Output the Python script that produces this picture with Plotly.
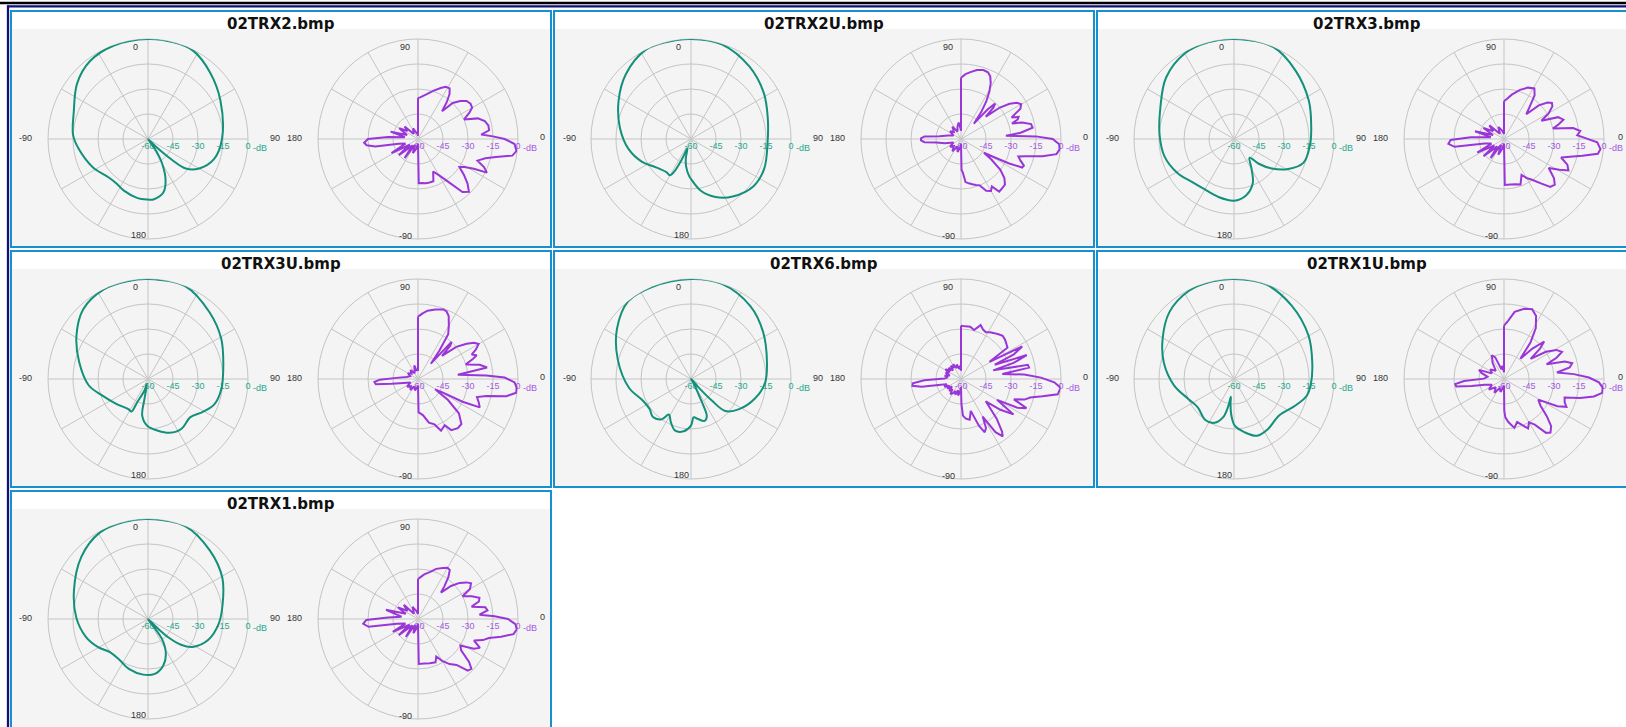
import plotly.graph_objects as go

W, H = 1626, 727

TITLES = ["02TRX2.bmp", "02TRX2U.bmp", "02TRX3.bmp",
          "02TRX3U.bmp", "02TRX6.bmp", "02TRX1U.bmp",
          "02TRX1.bmp"]

# ---- horizontal patterns (angle deg, clockwise from top ; level dB) ----
H_02TRX2 = [(0, 0), (15, 0), (27, -0.5), (43, -5.4), (62, -10.8), (90, -15.6), (107, -18.6),
            (120, -24.6), (128, -31.2), (131, -40.8), (134, -52.8), (138, -60), (145, -52.8),
            (150, -43.2), (157, -33), (164, -26.6), (175, -23.6), (180, -23.7), (190, -24),
            (205, -25.8), (215, -27.3), (226, -27), (243, -22.8), (262, -18), (273, -15),
            (290, -12.6), (308, -6), (323, -1.8), (340, -0.3), (360, 0)]
H_02TRX2U = [(0, 0), (18, -0.3), (39, -4.2), (58, -8.4), (75, -12.3), (92, -14), (112, -12.6),
             (127, -13), (144, -17.4), (157, -22.2), (169, -28.2), (180, -36), (183, -37.8),
             (190, -43.2), (195, -48), (201, -54), (204, -46.8), (207, -38.4), (210, -34.8),
             (216, -35.2), (231, -33), (245, -27.6), (261, -22), (279, -16.8), (298, -10.8),
             (315, -4.8), (333, 0), (346, 0), (360, 0)]
H_02TRX3 = [(0, 0), (23, 0), (42, -4.8), (63, -9.6), (82, -13.2), (95, -14.3), (109, -16),
            (119, -22.8), (128, -31.2), (135, -39), (140, -45.4), (150, -38.8), (157, -31.2),
            (168, -25.4), (180, -23), (195, -24), (212, -25), (224, -24), (239, -20.4),
            (256, -17), (273, -15.3), (293, -12), (312, -5.1), (330, -0.8), (345, 0), (360, 0)]
H_02TRX3U = [(0, 0), (22, 0), (43, -5.6), (61, -9.8), (78, -13.8), (98, -15.6), (111, -17.4),
             (121, -21.6), (132, -25.8), (146, -24), (158, -25.2), (169, -28.4), (181, -32),
             (189, -37.8), (190, -48), (192, -57), (197, -52.8), (205, -44.5), (207, -38.1),
             (213, -38.4), (232, -35.8), (250, -30.9), (264, -24.2), (284, -17.4), (301, -9.9),
             (317, -2.9), (334, 0), (348, 0), (360, 0)]
H_02TRX6 = [(0, 0), (18, 0), (39, -3.6), (57, -8.4), (78, -13.4), (93, -15.5), (107, -19.9),
            (122, -25.9), (133, -31.9), (136, -42), (138, -52.4), (141, -60), (150, -56),
            (154, -49), (155, -42.4), (157, -35.7), (162, -33.6), (170, -35.6), (176, -37),
            (180, -32), (188, -28.3), (197, -27.6), (205, -31.4), (212, -34.9), (216, -30.2),
            (225, -27.7), (234, -29.3), (246, -28.3), (262, -22.4), (285, -14.5), (304, -6.4),
            (321, 0), (337, 0), (360, 0)]
H_02TRX1U = [(0, 0), (18, 0), (38, -4), (60, -8.3), (78, -12), (93, -13.7), (103, -15.2),
             (113, -19.7), (129, -25.2), (146, -23.7), (158, -23.3), (169, -27.5), (179, -32),
             (184, -37.9), (188, -45), (190, -49.2), (192, -43), (196, -36), (204, -31.2),
             (215, -30), (232, -32.4), (246, -30.2), (264, -23.8), (283, -16.8), (299, -11),
             (316, -4.2), (333, -0.6), (347, 0), (360, 0)]
H_02TRX1 = [(0, 0), (22, 0), (42, -4.6), (61, -9), (79, -14.4), (94, -17.5), (109, -21.7),
            (122, -28.4), (128, -34.9), (132, -43.4), (134, -52.8), (138, -60), (145, -45.4),
            (153, -36.4), (162, -30.5), (173, -26.8), (185, -26.5), (201, -27.9), (216, -30.2),
            (229, -29.7), (241, -25.5), (254, -21.2), (271, -17), (291, -12.4), (313, -5.3),
            (331, -0.6), (346, 0), (360, 0)]

# ---- vertical patterns (angle deg, counter-clockwise from right ; level dB) ----
V_02TRX2 = [(90, -35.4), (87, -35), (80, -33), (72, -29.5), (66, -26.5), (62, -24.5), (58, -24.2),
            (55, -27), (52, -32), (49, -38), (46, -30), (42, -26), (38, -23), (34, -22), (30, -22.5),
            (27, -25.5), (23, -30), (19, -22), (15, -18.5), (11, -17), (7, -17), (4, -22), (2, -15),
            (0, -8), (-3, -2), (-7, -0.5), (-10, -2.5), (-13, -12), (-16, -18), (-20, -22),
            (-23, -17), (-26, -14), (-28, -22), (-31, -27.5), (-34, -30), (-38, -25), (-42, -20),
            (-46, -16), (-50, -18.5), (-55, -29), (-60, -35), (-65, -38.5), (-70, -33), (-75, -33),
            (-80, -33), (-85, -33.5), (-89, -33.5), (-90, -57), (-95, -56), (-100, -54),
            (-110, -51), (-118, -56), (-125, -46), (-130, -55), (-140, -45), (-145, -54),
            (-152, -42), (-160, -52), (-166, -48), (-170, -34), (-173, -29), (-176, -27.6),
            (-180, -30), (-184, -42), (-188, -52), (-195, -43), (-200, -53), (-210, -47),
            (-217, -52), (-223, -49), (-230, -56), (-245, -53), (-255, -56), (-265, -57),
            (-270, -58), (-270, -35.4)]
V_02TRX2U = [(90, -23.2), (86, -21), (82, -19.5), (77, -17.5), (72, -16.5), (68, -16.8), (65, -18.5),
             (62, -22), (59, -27), (56, -33), (53, -40), (50, -48), (48, -36), (46, -30.5), (44, -33),
             (42, -40), (39, -30), (36, -24), (33, -20), (30, -18.3), (27, -20), (25, -24), (23, -27),
             (21, -23), (19, -24), (17, -28), (15, -22), (12, -17), (9, -16.5), (6, -24), (4, -33),
             (2, -15), (0, -5), (-3, -1), (-6, -0.5), (-9, -2), (-12, -10), (-15, -20), (-17, -24),
             (-20, -22), (-23, -19), (-25, -19.5), (-27, -28), (-29, -38), (-31, -44), (-34, -38),
             (-38, -30), (-42, -25), (-46, -22), (-50, -21.5), (-54, -21), (-57, -26), (-60, -24),
             (-64, -25.5), (-68, -30), (-72, -31), (-76, -32), (-80, -33), (-84, -34), (-87, -40),
             (-89, -41.4), (-90, -57), (-95, -55), (-105, -52), (-115, -55), (-125, -51),
             (-135, -54), (-145, -52), (-155, -55), (-165, -50), (-172, -45), (-175, -38),
             (-178, -36), (-181, -36), (-184, -38), (-187, -47), (-195, -52), (-205, -55),
             (-215, -52), (-225, -54), (-235, -51), (-245, -55), (-255, -52), (-262, -50),
             (-268, -54), (-270, -55), (-270, -23.2)]
V_02TRX3 = [(90, -37.4), (86, -36), (80, -33), (72, -29), (65, -26), (59, -24.6), (55, -28), (51, -36),
            (48, -40), (44, -31), (40, -26), (37, -24), (34, -25), (30, -29), (26, -35), (22, -25),
            (18, -22.5), (15, -26), (12, -30), (9, -18), (6, -14), (3, -16), (1, -12), (-2, -4),
            (-6, -1.8), (-9, -3), (-12, -12), (-15, -19), (-18, -24), (-22, -19), (-26, -17),
            (-29, -22), (-33, -28), (-38, -22), (-42, -19), (-46, -20), (-50, -25), (-55, -30),
            (-60, -33), (-64, -36), (-70, -31), (-76, -32), (-82, -32.5), (-89, -32.4), (-90, -57),
            (-100, -54), (-110, -50), (-118, -56), (-125, -46), (-132, -54), (-140, -44),
            (-146, -53), (-153, -42), (-160, -52), (-167, -48), (-171, -30), (-175, -26.5),
            (-179, -28), (-183, -40), (-188, -52), (-195, -42), (-200, -53), (-208, -46),
            (-216, -52), (-223, -48), (-232, -56), (-245, -52), (-258, -55), (-270, -57),
            (-270, -37.4)]
V_02TRX3U = [(90, -22.6), (86, -20.5), (82, -18.6), (76, -17), (70, -15.6), (67, -16), (64, -18),
             (60, -23), (56, -27.6), (53, -38.6), (50, -48), (48, -30), (46, -32), (44, -40), (40, -30),
             (36, -24), (33, -20), (30, -18), (27, -21), (24.5, -24.6), (22, -22), (20, -25), (17, -30),
             (13, -22), (9.5, -18), (6, -36), (3, -19), (1, -8), (-2, -2), (-5, -0.6), (-8, -0.5),
             (-11, -6), (-14, -17.7), (-17, -23), (-21, -21), (-24.7, -19.2), (-27, -30), (-29, -44),
             (-31, -48), (-35, -38), (-40, -28), (-46, -22.5), (-51, -22), (-57, -23.4), (-60, -28),
             (-66, -26), (-70, -31), (-76, -33), (-82, -38), (-85, -39), (-89, -40), (-90, -56),
             (-95, -55), (-105, -53), (-115, -55), (-125, -52), (-135, -54), (-145, -52),
             (-155, -55), (-165, -51), (-170, -44), (-173, -34.5), (-176, -33.8), (-179, -37),
             (-183, -47), (-190, -53), (-200, -55), (-210, -53), (-220, -55), (-230, -53),
             (-240, -56), (-250, -54), (-254, -52), (-256, -51.8), (-259, -55), (-265, -54),
             (-270, -55), (-270, -22.6)]
V_02TRX6 = [(90, -28), (85, -28.3), (80, -28.2), (75, -29.6), (70, -25.6), (66, -27.5), (62, -28.2),
            (58, -27), (54, -26), (50, -25), (46, -24), (42, -24.5), (38, -25.5), (34, -26.4),
            (31, -40), (28, -18.4), (25, -25), (23, -38), (20, -18), (17, -27), (15, -40), (12, -19),
            (9.5, -18.6), (7, -35), (4, -22), (1, -12), (-2, -4), (-5, 0), (-9, -1.2), (-12, -10),
            (-15, -17), (-18, -20), (-21, -26), (-24, -17), (-27, -22), (-30, -35), (-34, -22),
            (-38, -30), (-42, -40), (-48, -28), (-52, -20), (-54, -17.4), (-57, -22), (-60, -34),
            (-63, -27), (-66, -25), (-69, -30), (-73, -40), (-78, -35), (-83, -36), (-87, -38),
            (-89, -45), (-90, -55), (-95, -52), (-100, -50), (-105, -53), (-110, -50), (-115, -52),
            (-120, -50), (-125, -49), (-130, -52), (-135, -50), (-140, -53), (-145, -50),
            (-150, -52), (-155, -49), (-160, -51), (-165, -46), (-169, -36), (-172, -30.6),
            (-175, -31), (-178, -38), (-182, -50), (-187, -52), (-192, -50), (-197, -53),
            (-202, -50), (-207, -52), (-212, -49), (-217, -52), (-222, -50), (-227, -53),
            (-232, -50), (-237, -52), (-242, -50), (-248, -53), (-254, -51), (-260, -54),
            (-266, -52), (-270, -55), (-270, -28)]
V_02TRX1U = [(90, -28), (86, -25), (81, -19.2), (74, -16.2), (68, -14.9), (63, -17.6), (58, -24),
             (54, -33), (51, -44.4), (47, -35), (43, -27), (40, -32), (37, -40), (33, -30), (29, -24),
             (25, -21.6), (22, -26), (19, -33), (16, -22), (13, -18), (10, -20), (7, -28), (4, -18),
             (1, -9), (-2, -3), (-5, -0.6), (-8, -0.5), (-11, -5), (-14, -13), (-17, -22), (-21, -21),
             (-24, -19), (-27, -24), (-31, -36), (-36, -33), (-41, -26), (-45, -20), (-49, -17.5),
             (-52, -19), (-56, -27), (-60, -30), (-64, -27), (-68, -30), (-73, -33), (-78, -30),
             (-84, -33.9), (-88, -37), (-89.5, -41), (-90, -56), (-95, -55), (-105, -52),
             (-115, -54), (-125, -50), (-135, -53), (-145, -49), (-155, -52), (-163, -48),
             (-168, -40), (-171, -31), (-174, -30.6), (-177, -36), (-181, -48), (-188, -50),
             (-195, -46), (-200, -44), (-205, -52), (-215, -50), (-225, -53), (-235, -48),
             (-243, -44), (-248, -46), (-255, -54), (-263, -52), (-270, -56), (-270, -28)]
V_02TRX1 = [(90, -36), (87, -35), (82, -33), (76, -31), (70, -28), (64, -26), (60, -24.5), (57, -25),
            (54, -29), (51, -35), (49, -39), (45, -32), (41, -27), (37, -23.5), (34, -21.6), (30, -24),
            (27, -30), (23, -25), (19, -21), (16, -22), (13, -27), (10, -19), (7, -18), (4, -23),
            (2, -14), (0, -6), (-3, -1.5), (-6, -0.4), (-9, -2), (-12, -9), (-15, -16), (-18, -19),
            (-21, -24), (-25, -19), (-28, -22), (-32, -30), (-36, -28), (-40, -20), (-43, -16.2),
            (-46, -17), (-50, -24), (-55, -27), (-60, -31), (-64, -35), (-68, -32), (-75, -32.5),
            (-82, -33), (-89, -33), (-90, -57), (-100, -54), (-108, -51), (-116, -56), (-124, -47),
            (-132, -55), (-140, -45), (-146, -54), (-153, -43), (-160, -52), (-167, -47),
            (-171, -30), (-175, -27), (-179, -29), (-183, -42), (-188, -50), (-196, -40),
            (-203, -52), (-210, -46), (-218, -52), (-225, -48), (-233, -56), (-246, -52),
            (-258, -55), (-270, -57), (-270, -36)]

H_DATA = [H_02TRX2, H_02TRX2U, H_02TRX3, H_02TRX3U, H_02TRX6, H_02TRX1U, H_02TRX1]
V_DATA = [V_02TRX2, V_02TRX2U, V_02TRX3, V_02TRX3U, V_02TRX6, V_02TRX1U, V_02TRX1]

ANG_TICKS = list(range(0, 360, 30))
ANG_LABELS = ["0", "90", "180", "-90"]
RAD_TICKS = [-60, -45, -30, -15, 0]
RAD_TEXT = ["-60", "-45", "-30", "-15", "0"]

# ---- styling / layout ----
TEAL = "#12907a"
TEAL_TXT = "#27a88d"
PURPLE = "#9a36d8"
PURPLE_TXT = "#a45ae0"
GRID = "#c4c4c4"
BORDER = "#1690cf"
BG = "#f4f4f4"
NAVY = "#10107a"
LABEL_COLOR = "#333333"

COL_X0 = [11, 554, 1097]
ROW_Y0 = [11, 251, 491]
PW, PH = 540, 236
R = 100
LX, RXO, CYO = 137, 407, 128
# where the chart library puts its angle labels, relative to the circle centre (px)
LEFT_LABEL_POS = {"0": (-13, -92), "90": (127, -1), "180": (-10, 96), "-90": (-122, -1)}
RIGHT_LABEL_POS = {"90": (-13, -92), "0": (124, -2), "-90": (-13, 97), "180": (-124, -1)}


def px(x):
    return x / W


def py(y):
    return 1 - y / H


fig = go.Figure()
shapes = [
    dict(type="line", xref="paper", yref="paper", x0=0, x1=1, y0=py(3), y1=py(3),
         line=dict(color="#000000", width=2.3)),
    dict(type="line", xref="paper", yref="paper", x0=px(7), x1=1, y0=py(6.3), y1=py(6.3),
         line=dict(color=NAVY, width=2.3)),
    dict(type="line", xref="paper", yref="paper", x0=px(8), x1=px(8), y0=py(5.5), y1=0,
         line=dict(color=NAVY, width=2.3)),
]
annotations = []
polars = {}

for i, title in enumerate(TITLES):
    row, col = divmod(i, 3)
    x0 = COL_X0[col]
    y0 = ROW_Y0[row]
    x1 = x0 + PW
    y1 = y0 + PH + (6 if row == 2 else 0)
    shapes.append(dict(type="rect", xref="paper", yref="paper", layer="below",
                       x0=px(x0 + 1), x1=px(x1 - 1), y0=py(y1 - 1), y1=py(y0 + 18),
                       fillcolor=BG, line=dict(width=0)))
    shapes.append(dict(type="rect", xref="paper", yref="paper", layer="below",
                       x0=px(x0), x1=px(x1), y0=py(y1), y1=py(y0),
                       fillcolor="rgba(0,0,0,0)", line=dict(color=BORDER, width=2)))
    annotations.append(dict(xref="paper", yref="paper", x=px((x0 + x1) / 2), y=py(y0 + 13),
                            xanchor="center", yanchor="middle", showarrow=False,
                            text="<b>%s</b>" % title,
                            font=dict(family="DejaVu Sans", size=15, color="#111111")))
    cy = y0 + CYO
    specs = [
        (H_DATA[i], x0 + LX, TEAL, TEAL_TXT, 90, "clockwise", "spline", LEFT_LABEL_POS),
        (V_DATA[i], x0 + RXO, PURPLE, PURPLE_TXT, 0, "counterclockwise", "linear", RIGHT_LABEL_POS),
    ]
    for k, (data, cx, color, tcolor, rot, direc, shape, lpos) in enumerate(specs):
        n = 2 * i + k + 1
        key = "polar" if n == 1 else "polar%d" % n
        polars[key] = dict(
            domain=dict(x=[px(cx - R), px(cx + R)], y=[py(cy + R), py(cy - R)]),
            bgcolor="rgba(0,0,0,0)",
            angularaxis=dict(rotation=rot, direction=direc, tickmode="array",
                             tickvals=ANG_TICKS, showticklabels=False, showgrid=True,
                             gridcolor=GRID, gridwidth=1, showline=True, linecolor=GRID,
                             linewidth=1, ticks="", layer="below traces"),
            radialaxis=dict(range=[-60, 0], tickmode="array", tickvals=RAD_TICKS,
                            ticktext=RAD_TEXT, angle=0, side="clockwise", showline=False,
                            showgrid=True, gridcolor=GRID, gridwidth=1, ticks="",
                            layer="below traces",
                            tickfont=dict(family="Liberation Sans", size=9, color=tcolor)),
        )
        fig.add_trace(go.Scatterpolar(
            r=[d for a, d in data], theta=[a for a, d in data], mode="lines",
            line=dict(color=color, width=2, shape=shape, smoothing=1.0),
            subplot=key, showlegend=False, hoverinfo="skip"))
        annotations.append(dict(xref="paper", yref="paper", x=px(cx + R + 12), y=py(cy + 9),
                                xanchor="center", yanchor="middle", showarrow=False, text="-dB",
                                font=dict(family="Liberation Sans", size=9, color=tcolor)))
        for lab in ANG_LABELS:
            dx, dy = lpos[lab]
            lx = cx + dx
            anchor = "center"
            if lx + 4 > W:          # keep a label that would run off the page inside it
                lx, anchor = W - 1, "right"
            annotations.append(dict(xref="paper", yref="paper", x=px(lx), y=py(cy + dy),
                                    xanchor=anchor, yanchor="middle", showarrow=False,
                                    text=lab,
                                    font=dict(family="Liberation Sans", size=9,
                                              color=LABEL_COLOR)))

fig.update_layout(width=W, height=H, autosize=False,
                  margin=dict(l=0, r=0, t=0, b=0, pad=0),
                  paper_bgcolor="#ffffff", plot_bgcolor="#ffffff",
                  shapes=shapes, annotations=annotations, showlegend=False, **polars)

fig.write_html("out.html", config={"displayModeBar": False},
               post_script="document.body.style.margin='0';document.body.style.overflow='hidden';")
